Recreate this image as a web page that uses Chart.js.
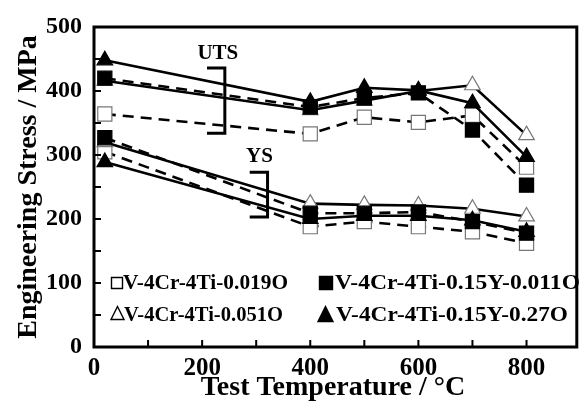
<!DOCTYPE html>
<html lang="en">
<head>
    <meta charset="UTF-8">
    <title>Engineering Stress vs Test Temperature</title>
    <script src="https://cdn.jsdelivr.net/npm/chart.js"></script>
    <style>
        html, body { margin: 0; padding: 0; background: #fff; }
        #box { width: 588px; height: 401px; }
    </style>
</head>
<body>
    <div id="box">
        <canvas id="myChartCanvas"></canvas>
    </div>

<script>
    // dados
    const temperaturas = [20, 400, 500, 600, 700, 800];

    const uts019 = [364, 333, 359, 351, 362, 281];
    const uts051 = [416, 370, 385, 400, 409, 331];
    const uts011 = [420, 375, 389, 397, 339, 253];
    const uts027 = [448, 383, 405, 401, 381, 297];

    const ys019 = [305, 188, 196, 188, 180, 162];
    const ys051 = [320, 224, 222, 221, 216, 204];
    const ys011 = [327, 209, 209, 211, 196, 178];
    const ys027 = [289, 200, 205, 205, 198, 180];

    // ticks dos eixos
    const ticksX = [0, 100, 200, 300, 400, 500, 600, 700, 800];
    const rotulosX = [0, 200, 400, 600, 800];
    const ticksY = [0, 50, 100, 150, 200, 250, 300, 350, 400, 450, 500];
    const rotulosY = [0, 100, 200, 300, 400, 500];

    const nomes = ['V-4Cr-4Ti-0.019O', 'V-4Cr-4Ti-0.15Y-0.011O', 'V-4Cr-4Ti-0.051O', 'V-4Cr-4Ti-0.15Y-0.27O'];

    // colchetes UTS / YS (em unidades dos dados)
    const colcheteUTS = { x0: 209, x1: 242, y0: 334, y1: 436, tx: 229, ty: 459, texto: 'UTS' };
    const colcheteYS = { x0: 288, x1: 321, y0: 203, y1: 273, tx: 306, ty: 297, texto: 'YS' };

    const fonte = "'Liberation Serif', 'DejaVu Serif', serif";

    function pontos(valores) {
        return temperaturas.map((t, i) => ({ x: t, y: valores[i] }));
    }

    function serie(valores, estilo, ordem) {
        const aberto = estilo.aberto;
        return {
            label: estilo.nome,
            data: pontos(valores),
            borderColor: '#000',
            borderWidth: 2.6,
            borderDash: estilo.tracejado ? [11, 7] : [],
            pointStyle: estilo.forma,
            pointRadius: estilo.forma === 'rect' ? 10 : 9,
            pointBackgroundColor: aberto ? '#fff' : '#000',
            pointBorderColor: aberto ? '#777' : '#000',
            pointBorderWidth: 1.2,
            fill: false,
            tension: 0,
            order: ordem
        };
    }

    const e019 = { nome: nomes[0], forma: 'rect', aberto: true, tracejado: true };
    const e011 = { nome: nomes[1], forma: 'rect', aberto: false, tracejado: true };
    const e051 = { nome: nomes[2], forma: 'triangle', aberto: true, tracejado: false };
    const e027 = { nome: nomes[3], forma: 'triangle', aberto: false, tracejado: false };

    // texto esticado na horizontal até a largura pedida
    function textoLargura(ctx, txt, x, y, largura) {
        const w = ctx.measureText(txt).width;
        ctx.save();
        ctx.translate(x, y);
        ctx.scale(largura / w, 1);
        ctx.fillText(txt, 0, 0);
        ctx.restore();
    }

    const moldura = {
        id: 'moldura',
        afterDatasetsDraw(chart) {
            const ctx = chart.ctx;
            const a = chart.chartArea;
            const sx = chart.scales.x;
            const sy = chart.scales.y;
            ctx.save();
            ctx.strokeStyle = '#000';
            ctx.lineWidth = 3;
            ctx.strokeRect(a.left, a.top, a.right - a.left, a.bottom - a.top);

            // ticks para dentro
            ctx.lineWidth = 2;
            ctx.beginPath();
            ticksX.forEach(v => {
                const px = sx.getPixelForValue(v);
                ctx.moveTo(px, a.bottom);
                ctx.lineTo(px, a.bottom - 7);
            });
            ticksY.forEach(v => {
                const py = sy.getPixelForValue(v);
                ctx.moveTo(a.left, py);
                ctx.lineTo(a.left + 7, py);
            });
            ctx.stroke();

            // colchetes
            ctx.lineWidth = 3;
            [colcheteUTS, colcheteYS].forEach(c => {
                const x0 = sx.getPixelForValue(c.x0), x1 = sx.getPixelForValue(c.x1);
                const y0 = sy.getPixelForValue(c.y0), y1 = sy.getPixelForValue(c.y1);
                ctx.beginPath();
                ctx.moveTo(x0, y1);
                ctx.lineTo(x1, y1);
                ctx.lineTo(x1, y0);
                ctx.lineTo(x0, y0);
                ctx.stroke();
                ctx.font = 'bold 21px ' + fonte;
                ctx.fillStyle = '#000';
                ctx.textAlign = 'center';
                ctx.textBaseline = 'middle';
                ctx.fillText(c.texto, sx.getPixelForValue(c.tx), sy.getPixelForValue(c.ty));
            });

            // legenda
            const itens = [
                { e: e019, mx: 117, my: 283, lado: 11, tx: 123, ty: 284, larg: 165 },
                { e: e011, mx: 326, my: 283, lado: 13, tx: 335, ty: 284, larg: 245 },
                { e: e051, mx: 117.5, my: 314, lado: 13, tx: 124, ty: 316, larg: 159 },
                { e: e027, mx: 325.5, my: 315, lado: 15, tx: 336, ty: 316, larg: 232 }
            ];
            ctx.font = 'bold 20px ' + fonte;
            ctx.textAlign = 'left';
            ctx.textBaseline = 'middle';
            itens.forEach(it => {
                const h = it.lado / 2;
                ctx.lineWidth = 1.4;
                ctx.fillStyle = it.e.aberto ? '#fff' : '#000';
                ctx.strokeStyle = '#000';
                ctx.beginPath();
                if (it.e.forma === 'rect') {
                    ctx.rect(it.mx - h, it.my - h, it.lado, it.lado);
                } else {
                    ctx.moveTo(it.mx, it.my - h - 1);
                    ctx.lineTo(it.mx + h, it.my + h - 1);
                    ctx.lineTo(it.mx - h, it.my + h - 1);
                    ctx.closePath();
                }
                ctx.fill();
                ctx.stroke();
                ctx.fillStyle = '#000';
                textoLargura(ctx, it.e.nome, it.tx, it.ty, it.larg);
            });

            // títulos dos eixos
            ctx.textAlign = 'center';
            ctx.textBaseline = 'middle';
            ctx.font = 'bold 28px ' + fonte;
            ctx.fillText('Test Temperature / \u00B0C', 333, 388);

            ctx.save();
            ctx.translate(29, 187);
            ctx.rotate(-Math.PI / 2);
            ctx.font = 'bold 28px ' + fonte;
            ctx.fillText('Engineering Stress / MPa', 0, 0);
            ctx.restore();

            ctx.restore();
        }
    };

    const config = {
        type: 'line',
        data: {
            datasets: [
                serie(uts019, e019, 4), serie(uts051, e051, 3), serie(uts011, e011, 2), serie(uts027, e027, 1),
                serie(ys019, e019, 4), serie(ys051, e051, 3), serie(ys011, e011, 2), serie(ys027, e027, 1)
            ]
        },
        options: {
            responsive: true,
            maintainAspectRatio: false,
            animation: false,
            layout: { padding: { top: 27, right: 6, left: 0, bottom: 0 } },
            plugins: {
                legend: { display: false },
                tooltip: { enabled: false }
            },
            scales: {
                x: {
                    type: 'linear',
                    min: 0,
                    max: 893,
                    grid: { display: false, drawTicks: false },
                    border: { display: false },
                    afterBuildTicks: s => { s.ticks = ticksX.map(v => ({ value: v })); },
                    ticks: {
                        padding: 7,
                        autoSkip: false,
                        color: '#000',
                        font: { family: fonte, size: 25, weight: 'bold' },
                        maxRotation: 0,
                        minRotation: 0,
                        callback: v => rotulosX.includes(v) ? String(v) : ''
                    },
                    afterFit: s => { s.height = 54; }
                },
                y: {
                    min: 0,
                    max: 500,
                    grid: { display: false, drawTicks: false },
                    border: { display: false },
                    afterBuildTicks: s => { s.ticks = ticksY.map(v => ({ value: v })); },
                    ticks: {
                        padding: 12,
                        autoSkip: false,
                        color: '#000',
                        font: { family: fonte, size: 24, weight: 'bold' },
                        callback: v => rotulosY.includes(v) ? String(v) : ''
                    },
                    afterFit: s => { s.width = 94; }
                }
            }
        },
        plugins: [moldura]
    };

    new Chart(document.getElementById('myChartCanvas'), config);
</script>
</body>
</html>
